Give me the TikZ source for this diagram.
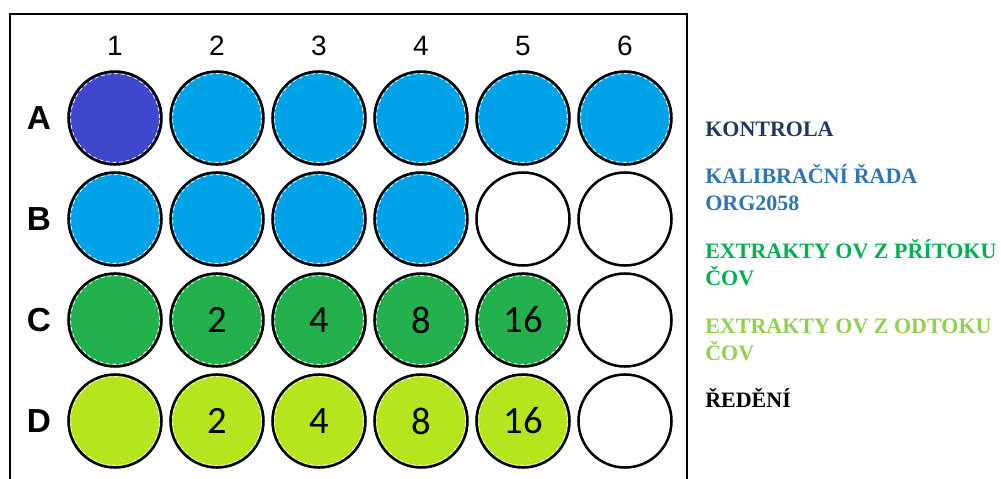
\documentclass[tikz,border=0pt]{standalone}
\usepackage{fontspec}
\setmainfont{Liberation Serif}
\newfontfamily\arialfont{Liberation Sans}
\newfontfamily\calibrifont{Carlito}
\definecolor{kontrolawell}{HTML}{3F48CC}
\definecolor{kalibwell}{HTML}{00A2E8}
\definecolor{pritokwell}{HTML}{22B14C}
\definecolor{odtokwell}{HTML}{B5E61D}
\definecolor{kontrolatext}{HTML}{1F3864}
\definecolor{kalibtext}{HTML}{2E75B6}
\definecolor{pritoktext}{HTML}{00B050}
\definecolor{odtoktext}{HTML}{92D050}

\begin{document}
\begin{tikzpicture}[x=0.75pt, y=-0.75pt]
    \tikzstyle{well} = [circle, draw=black, line width=1.9pt, minimum size=69.75pt, inner sep=0pt, font=\calibrifont\fontsize{29}{31}\selectfont]
    \tikzstyle{filled} = [path picture={\draw[white, line width=0.6pt, dash pattern=on 3pt off 2pt] (path picture bounding box.center) circle (33.3pt);}]
    \tikzstyle{collabel} = [font=\arialfont\fontsize{21}{25}\selectfont]
    \tikzstyle{rowlabel} = [font=\arialfont\bfseries\fontsize{25}{30}\selectfont]
    \tikzstyle{legend} = [anchor=base west, inner sep=0pt, align=left, font=\bfseries\fontsize{16.5}{20.25}\selectfont]
    \useasboundingbox (0,0) rectangle (1001,479);
    \draw[line width=1.9pt] (10,479) -- (10,14) -- (687,14) -- (687,479);
    \foreach \c in {1,...,6}
        \node[collabel] (col\c) at (13+102*\c, 46) {\c};
    \foreach \r/\y in {A/118, B/219, C/320, D/421}
        \node[rowlabel] (row\r) at (39, \y) {\r};
    \foreach \c/\f in {1/kontrolawell, 2/kalibwell, 3/kalibwell, 4/kalibwell, 5/kalibwell, 6/kalibwell}
        \node[well, filled, fill=\f] (A\c) at (13+102*\c, 118) {};
    \foreach \c in {1,...,4}
        \node[well, filled, fill=kalibwell] (B\c) at (13+102*\c, 219) {};
    \foreach \c/\t in {1/{}, 2/2, 3/4, 4/8, 5/16}
        \node[well, filled, fill=pritokwell] (C\c) at (13+102*\c, 320) {\t};
    \foreach \c/\t in {1/{}, 2/2, 3/4, 4/8, 5/16}
        \node[well, filled, fill=odtokwell] (D\c) at (13+102*\c, 421) {\t};
    \node[well] (B5) at (523, 219) {};
    \node[well] (B6) at (625, 219) {};
    \node[well] (C6) at (625, 320) {};
    \node[well] (D6) at (625, 421) {};
    \node[legend, text=kontrolatext] (kontrola) at (705, 136) {KONTROLA};
    \node[legend, text=kalibtext] (kalib) at (705, 210) {KALIBRAČNÍ ŘADA\\ORG2058};
    \node[legend, text=pritoktext] (pritok) at (705, 285) {EXTRAKTY OV Z PŘÍTOKU\\ČOV};
    \node[legend, text=odtoktext] (odtok) at (705, 360) {EXTRAKTY OV Z ODTOKU\\ČOV};
    \node[legend] (redeni) at (705, 407) {ŘEDĚNÍ};
\end{tikzpicture}
\end{document}
